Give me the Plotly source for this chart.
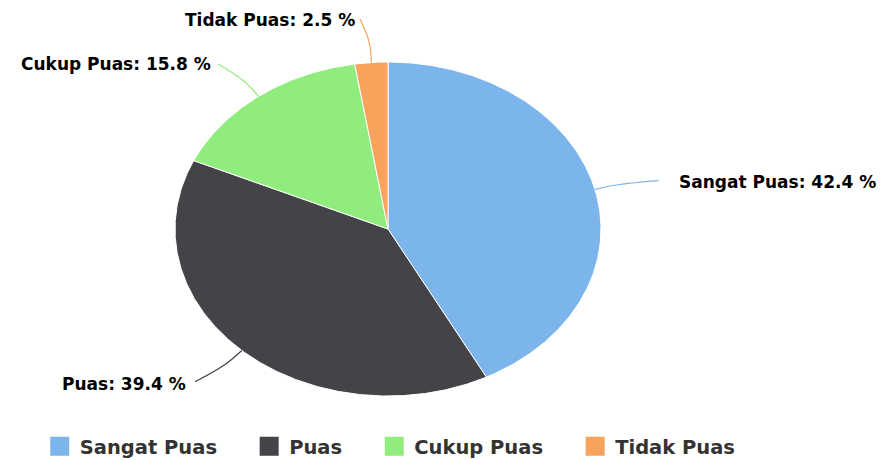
import numpy as np
import plotly.graph_objects as go

# Survey satisfaction shares (percent)
categories = ["Sangat Puas", "Puas", "Cukup Puas", "Tidak Puas"]
values = [42.4, 39.4, 15.8, 2.5]
colors = ["#7cb5ec", "#434348", "#90ed7d", "#f7a35c"]

# Where each data label sits (axis units, pie radius = 1) and its anchor side
label_pos = [(1.357, 0.281), (-0.939, -0.928), (-0.822, 0.988), (-0.146, 1.251)]
label_anchor = ["left", "right", "right", "right"]
connector_end = [(1.27, 0.29), (-0.906, -0.915), (-0.798, 0.988), (-0.131, 1.257)]

# Pie geometry in pixels: the pie is drawn as an ellipse
W, H = 893, 460
CX, CY = 388, 229
RX, RY = 213, 167

fig = go.Figure()

total = sum(values)
start = 0.0
mids = []
for name, val, col in zip(categories, values, colors):
    sweep = 360.0 * val / total
    ang = np.radians(np.linspace(start, start + sweep, max(int(sweep * 2), 4)))
    xs = np.concatenate([[0.0], np.sin(ang), [0.0]])
    ys = np.concatenate([[0.0], np.cos(ang), [0.0]])
    fig.add_trace(go.Scatter(
        x=xs, y=ys, mode="lines", fill="toself", fillcolor=col,
        line=dict(color="#ffffff", width=1),
        name=name, legendgroup=name, showlegend=False,
        hoverinfo="text", hoveron="fills", text=f"{name}: {val} %",
    ))
    mids.append(np.radians(start + sweep / 2))
    start += sweep

# Connectors and data labels
annotations = []
for name, val, col, mid, (lx, ly), anc, (ex, ey) in zip(
        categories, values, colors, mids, label_pos, label_anchor, connector_end):
    px, py = np.sin(mid), np.cos(mid)
    fig.add_trace(go.Scatter(
        x=[px, 1.12 * px, ex], y=[py, 1.12 * py, ey],
        mode="lines", line=dict(color=col, width=1.2, shape="spline"),
        showlegend=False, hoverinfo="skip",
    ))
    annotations.append(dict(
        x=lx, y=ly, xref="x", yref="y", xanchor=anc, yanchor="middle",
        text=f"{name}: {val} %", showarrow=False,
        font=dict(family="DejaVu Sans", size=17, color="#000000", weight="bold"),
    ))

# Legend entries (padded with non-breaking spaces between items)
for i, (name, col) in enumerate(zip(categories, colors)):
    pad = "" if i == len(categories) - 1 else "\u00a0\u00a0\u00a0\u00a0"
    fig.add_trace(go.Scatter(
        x=[None], y=[None], mode="markers", name=name + pad,
        legendgroup=name,
        marker=dict(symbol="square", size=16, color=col, line=dict(color=col, width=3)),
    ))

fig.update_layout(
    width=W, height=H,
    margin=dict(l=0, r=0, t=0, b=0, autoexpand=False),
    paper_bgcolor="#ffffff", plot_bgcolor="#ffffff",
    xaxis=dict(range=[-CX / RX, (W - CX) / RX], visible=False, fixedrange=True),
    yaxis=dict(range=[-(H - CY) / RY, CY / RY], visible=False, fixedrange=True),
    annotations=annotations,
    showlegend=True,
    legend=dict(
        orientation="h", x=0.437, xanchor="center", y=-0.013, yanchor="bottom",
        font=dict(family="DejaVu Sans", size=19.5, color="#333333", weight="bold"),
        itemclick=False, itemdoubleclick=False,
    ),
)

fig.write_html("out.html")
